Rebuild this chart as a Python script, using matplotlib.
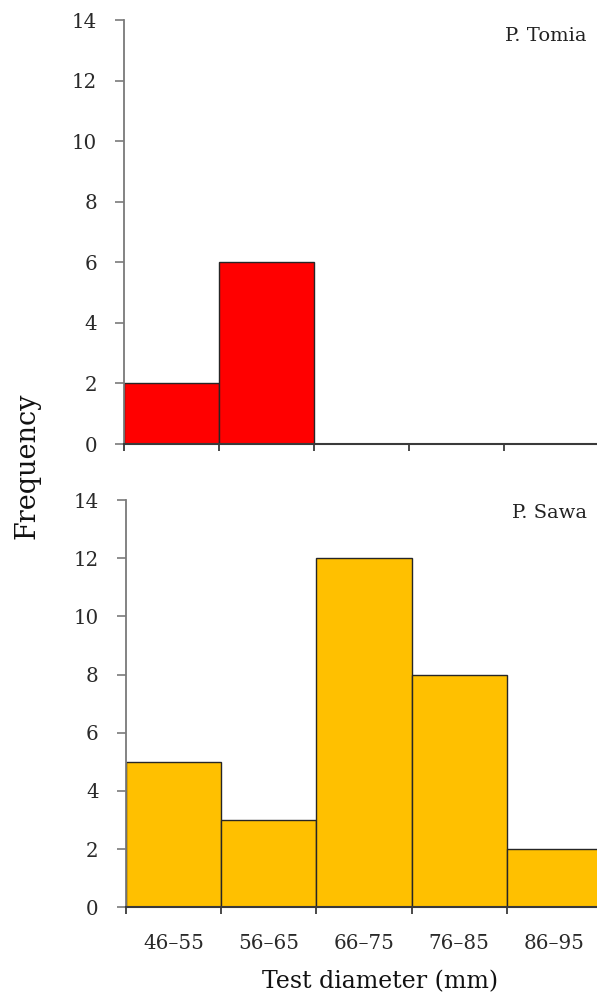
import matplotlib
matplotlib.use("Agg")
import matplotlib.pyplot as plt
import numpy as np

bins = ['46–55', '56–65', '66–75', '76–85', '86–95']
tomia = [2, 6, 0, 0, 0]
sawa = [5, 3, 12, 8, 2]
sites = ['P. Tomia', 'P. Sawa']
colors = ['#FF0000', '#FFC000']
yticks = [0, 2, 4, 6, 8, 10, 12, 14]

plt.rcParams['font.family'] = ['DejaVu Serif']

W, H = 597, 1006
fig = plt.figure(figsize=(W / 100, H / 100), dpi=100)

# axes geometry in pixels: left, y of value 0, y of value 14, bin width
geo = [(124.3, 444.0, 20.0, 94.8), (125.7, 907.3, 500.0, 95.3)]
label_top = [27.0, 504.5]
axes = []
for (left, y0, y14, bw) in geo:
    ax = fig.add_axes([left / W, 1 - y0 / H, 5 * bw / W, (y0 - y14) / H])
    axes.append(ax)

for i, (ax, vals) in enumerate(zip(axes, [tomia, sawa])):
    x = np.arange(len(bins))
    ax.bar(x, vals, width=1.0, align='edge', color=colors[i],
           edgecolor='#262626', linewidth=1.0, zorder=2)
    ax.set_xlim(0, len(bins))
    ax.set_ylim(0, 14)
    ax.set_yticks(yticks)
    ax.set_yticklabels([str(v) for v in yticks])
    for s in ['top', 'right']:
        ax.spines[s].set_visible(False)
    ax.spines['left'].set_color('#7a7a7a')
    ax.spines['left'].set_linewidth(1.3)
    ax.spines['bottom'].set_color('#3a3a3a')
    ax.spines['bottom'].set_linewidth(1.5)
    ax.spines['bottom'].set_zorder(3)
    ax.tick_params(axis='y', direction='out', length=6.5, width=1.2,
                   color='#7a7a7a', pad=13, labelsize=14.3, labelcolor='#2a2a2a')
    ax.set_xticks(np.arange(len(bins) + 1))
    ax.tick_params(axis='x', which='major', direction='out', length=5,
                   width=1.3, color='#3a3a3a', labelbottom=False)
    if i == 1:
        ax.set_xticks(x + 0.5, minor=True)
        ax.set_xticklabels(bins, minor=True)
        ax.tick_params(axis='x', which='minor', length=0, pad=19.5,
                       labelsize=14.3, labelcolor='#2a2a2a')
    else:
        ax.tick_params(axis='x', which='minor', length=0)
    fig.text(586.7 / W, 1 - label_top[i] / H, sites[i],
             ha='right', va='top', fontsize=14, color='#222222')

fig.text(27 / W, 1 - 466 / H, 'Frequency', rotation=90, ha='center',
         va='center', fontsize=19.5, color='#111111')
fig.text(380 / W, 1 - 988.3 / H, 'Test diameter (mm)', ha='center',
         va='baseline', fontsize=17, color='#111111')

fig.savefig('out.png', dpi=100)
